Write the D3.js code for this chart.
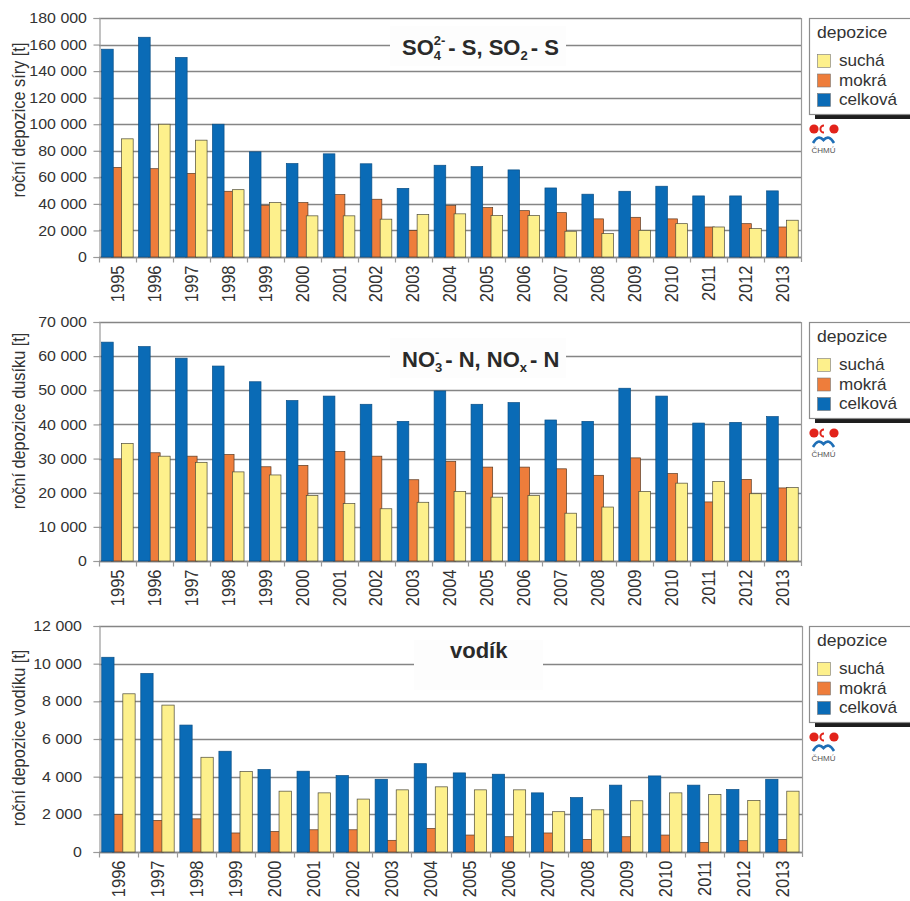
<!DOCTYPE html>
<html>
<head>
<meta charset="utf-8">
<script src="https://cdn.jsdelivr.net/npm/d3@7/dist/d3.min.js"></script>
<style>
  html, body { margin: 0; padding: 0; background: #fff; }
  svg { display: block; font-family: "Liberation Sans", Arial, Helvetica, sans-serif; }
</style>
</head>
<body>
<svg id="chart" width="910" height="901"></svg>
<script>
// Years on the category axis
const yearsSN = [1995, 1996, 1997, 1998, 1999, 2000, 2001, 2002, 2003, 2004,
                 2005, 2006, 2007, 2008, 2009, 2010, 2011, 2012, 2013];
const yearsH  = [1996, 1997, 1998, 1999, 2000, 2001, 2002, 2003, 2004,
                 2005, 2006, 2007, 2008, 2009, 2010, 2011, 2012, 2013];

// Sulphur deposition [t]
const siraSucha   = [89000, 100000, 88000, 50700, 41000, 31000, 31000, 28500, 32000, 32500,
                     31200, 31200, 19400, 17600, 20100, 25100, 22600, 21400, 27700];
const siraMokra   = [67500, 66500, 63000, 49500, 39000, 41000, 47000, 43500, 20000, 38700,
                     37200, 34900, 33400, 28700, 29900, 28700, 22600, 25100, 22600];
const siraCelkova = [156500, 165500, 150300, 100000, 79200, 70400, 77700, 70200, 51700, 69100,
                     68100, 65600, 52000, 47300, 49500, 53300, 46000, 46000, 49800];

// Nitrogen deposition [t]
const dusikSucha   = [34400, 30700, 28900, 26100, 25200, 19200, 16800, 15300, 17200, 20400,
                      18700, 19200, 14000, 15800, 20400, 22800, 23300, 19700, 21500];
const dusikMokra   = [29900, 31700, 30700, 31200, 27600, 28000, 32100, 30700, 23800, 29200,
                      27500, 27500, 27000, 25100, 30200, 25600, 17300, 23900, 21400];
const dusikCelkova = [64100, 62800, 59400, 57100, 52500, 47000, 48300, 45900, 40900, 49800,
                      45900, 46400, 41300, 40900, 50600, 48300, 40400, 40600, 42300];

// Hydrogen deposition [t]
const vodikSucha   = [8400, 7800, 5030, 4270, 3230, 3140, 2810, 3300, 3460,
                      3300, 3300, 2140, 2240, 2720, 3140, 3050, 2740, 3230];
const vodikMokra   = [1990, 1680, 1760, 1010, 1090, 1180, 1180, 620, 1250,
                      900, 810, 1010, 670, 810, 900, 510, 600, 670];
const vodikCelkova = [10340, 9480, 6740, 5350, 4380, 4290, 4060, 3860, 4690,
                      4200, 4130, 3140, 2890, 3550, 4040, 3550, 3320, 3860];

const legendLabels = ["suchá", "mokrá", "celková"];
const legendTitle = "depozice";

const colors = { sucha: "#fdf08c", mokra: "#ee7d3b", celkova: "#0a6bb6" };

const fmt = d3.formatLocale({ decimal: ",", thousands: " ", grouping: [3], currency: ["", ""] }).format(",d");

// text throughout the figure is set slightly wide
const SX = 1.1;

const panels = [
  {
    years: yearsSN, sucha: siraSucha, mokra: siraMokra, celkova: siraCelkova,
    yMax: 180000, step: 20000, top: 18, zero: 257, left: 99, right: 801,
    yTitle: "roční depozice síry [t]", yTitleY: 120, labelX: 87,
    title: [{ t: "SO" }, { sup: "2-", sub: "4" }, { t: "- S, SO", dx: 3 }, { sub: "2" }, { t: "- S", dx: 3 }],
    titleX: 402, titleY: 55, box: [390, 26, 176, 40], legendTop: 18
  },
  {
    years: yearsSN, sucha: dusikSucha, mokra: dusikMokra, celkova: dusikCelkova,
    yMax: 70000, step: 10000, top: 322, zero: 561, left: 99, right: 801,
    yTitle: "roční depozice dusíku [t]", yTitleY: 421, labelX: 87,
    title: [{ t: "NO" }, { sup: "-", sub: "3" }, { t: "- N, NO", dx: 3 }, { sub: "x" }, { t: "- N", dx: 3 }],
    titleX: 402, titleY: 367, box: [390, 338, 176, 40], legendTop: 322
  },
  {
    years: yearsH, sucha: vodikSucha, mokra: vodikMokra, celkova: vodikCelkova,
    yMax: 12000, step: 2000, top: 626, zero: 852, left: 99, right: 802,
    yTitle: "roční depozice vodíku [t]", yTitleY: 738, labelX: 82,
    title: [{ t: "vodík" }],
    titleX: 450, titleY: 658, box: [414, 640, 129, 50], legendTop: 626
  }
];

const svg = d3.select("#chart");
svg.append("rect").attr("width", 910).attr("height", 901).attr("fill", "#fff");

panels.forEach(p => {
  const g = svg.append("g");
  const x = d3.scaleBand().domain(p.years).range([p.left, p.right]).padding(0);
  const y = d3.scaleLinear().domain([0, p.yMax]).range([p.zero, p.top]);
  const ticks = d3.range(0, p.yMax + 1, p.step);

  // horizontal gridlines
  g.append("g").selectAll("line").data(ticks).join("line")
    .attr("x1", p.left).attr("x2", p.right)
    .attr("y1", d => Math.round(y(d)) + 0.5).attr("y2", d => Math.round(y(d)) + 0.5)
    .attr("stroke", "#858585").attr("stroke-width", 1.3);

  // right frame line
  g.append("line").attr("x1", p.right + 0.5).attr("x2", p.right + 0.5)
    .attr("y1", p.top).attr("y2", p.zero + 5)
    .attr("stroke", "#9a9a9a").attr("stroke-width", 1.2);

  // title box interrupting the gridline
  g.append("rect").attr("x", p.box[0]).attr("y", p.box[1])
    .attr("width", p.box[2]).attr("height", p.box[3]).attr("fill", "#fdfdfd");

  // y axis
  const yAxis = d3.axisLeft(y).tickValues(ticks).tickFormat(fmt).tickSize(6).tickPadding(0);
  const ya = g.append("g").attr("transform", `translate(${p.left + 0.5},0)`).call(yAxis);
  ya.select(".domain").attr("stroke", "#9a9a9a").attr("stroke-width", 1.2);
  ya.selectAll(".tick line").attr("stroke", "#9a9a9a").attr("stroke-width", 1.2);
  ya.selectAll(".tick text")
    .attr("x", 0)
    .attr("transform", `translate(${p.labelX - p.left - 0.5},0) scale(${SX},1)`)
    .attr("font-size", 14.5).attr("font-family", "Liberation Sans, Arial, sans-serif")
    .attr("fill", "#333");

  // x axis (ticks at band boundaries)
  const xa = g.append("g").attr("transform", `translate(0,${p.zero + 0.5})`);
  xa.append("line").attr("x1", p.left).attr("x2", p.right).attr("stroke", "#858585").attr("stroke-width", 1.3);
  xa.selectAll("line.b").data(p.years).join("line").attr("class", "b")
    .attr("x1", d => Math.round(x(d)) + 0.5).attr("x2", d => Math.round(x(d)) + 0.5)
    .attr("y1", 0).attr("y2", 5).attr("stroke", "#9a9a9a").attr("stroke-width", 1.2);
  xa.selectAll("text").data(p.years).join("text")
    .attr("transform", d => `translate(${x(d) + x.bandwidth() / 2},8) scale(${SX},1) rotate(-90)`)
    .attr("text-anchor", "end").attr("dy", "0.35em")
    .attr("font-size", 16.5).attr("fill", "#333")
    .text(d => d);

  // bars: wet behind, total and dry overlapping it
  const bw = x.bandwidth();
  const w = bw * 0.315, s = bw * 0.27, pad = bw * 0.07;
  const rows = p.years.map((yr, i) => ({ yr, sucha: p.sucha[i], mokra: p.mokra[i], celkova: p.celkova[i] }));
  const series = [
    { key: "mokra", off: s, stroke: "#5a3a22" },
    { key: "celkova", off: 0, stroke: "#0a4f86" },
    { key: "sucha", off: 2 * s, stroke: "#4d4a38" }
  ];
  series.forEach(se => {
    g.append("g").selectAll("rect").data(rows).join("rect")
      .attr("x", d => x(d.yr) + pad + se.off)
      .attr("y", d => y(d[se.key]))
      .attr("width", w)
      .attr("height", d => p.zero - y(d[se.key]))
      .attr("fill", colors[se.key])
      .attr("stroke", se.stroke).attr("stroke-width", 0.7);
  });

  // y title
  g.append("text")
    .attr("transform", `translate(19,${p.yTitleY}) scale(${SX},1) rotate(-90)`)
    .attr("text-anchor", "middle").attr("dy", "0.35em")
    .attr("font-size", 16.3).attr("fill", "#333")
    .text(p.yTitle);

  // chart title with stacked super/subscripts
  const tg = g.append("g").attr("font-weight", "bold").attr("fill", "#2a2a2a");
  let cx = p.titleX;
  const mainSize = 22, smallSize = 13;
  p.title.forEach(part => {
    if (part.t) {
      cx += part.dx || 0;
      const t = tg.append("text").attr("x", cx).attr("y", p.titleY)
        .attr("font-size", mainSize).text(part.t);
      cx += t.node().getComputedTextLength();
    } else {
      let wmax = 0;
      if (part.sup) {
        const t = tg.append("text").attr("x", cx).attr("y", p.titleY - 10)
          .attr("font-size", smallSize).text(part.sup);
        wmax = Math.max(wmax, t.node().getComputedTextLength());
      }
      if (part.sub) {
        const t = tg.append("text").attr("x", cx).attr("y", p.titleY + 4.5)
          .attr("font-size", smallSize).text(part.sub);
        wmax = Math.max(wmax, t.node().getComputedTextLength());
      }
      cx += wmax;
    }
  });

  // legend
  const lt = p.legendTop;
  const lg = g.append("g");
  lg.append("rect").attr("x", 815).attr("y", lt + 6).attr("width", 110).attr("height", 95).attr("fill", "#1e1e1e");
  lg.append("rect").attr("x", 809.5).attr("y", lt + 0.5).attr("width", 120).attr("height", 96)
    .attr("fill", "#fff").attr("stroke", "#8c8c8c").attr("stroke-width", 1.2);
  lg.append("text").attr("transform", `translate(817,${lt + 20}) scale(${SX},1)`)
    .attr("font-size", 16).attr("fill", "#333").text(legendTitle);
  const keys = ["sucha", "mokra", "celkova"];
  keys.forEach((k, i) => {
    lg.append("rect").attr("x", 817.5).attr("y", lt + 36.5 + i * 19.5).attr("width", 13).attr("height", 13)
      .attr("fill", colors[k]).attr("stroke", "#777").attr("stroke-width", 0.6);
    lg.append("text").attr("transform", `translate(839,${lt + 48 + i * 19.5}) scale(1.07,1)`)
      .attr("font-size", 16).attr("fill", "#333")
      .text(legendLabels[i]);
  });

  // institute logo
  const ly = lt + 96;
  const logo = g.append("g");
  logo.append("circle").attr("cx", 814).attr("cy", ly + 15).attr("r", 4.6).attr("fill", "#e2231a");
  logo.append("path")
    .attr("d", `M824,${ly + 10.4} A4.6,4.6 0 0 0 824,${ly + 19.6} L824,${ly + 17.6} A2.6,2.6 0 0 1 824,${ly + 12.4} Z`)
    .attr("fill", "#e2231a");
  logo.append("circle").attr("cx", 834).attr("cy", ly + 15).attr("r", 4.6).attr("fill", "#e2231a");
  logo.append("path")
    .attr("d", `M813,${ly + 29} Q818,${ly + 20} 823.5,${ly + 26} Q829,${ly + 20} 834,${ly + 29}`)
    .attr("fill", "none").attr("stroke", "#1f6fb6").attr("stroke-width", 2.6);
  logo.append("text").attr("x", 823.5).attr("y", ly + 39).attr("text-anchor", "middle")
    .attr("font-size", 8).attr("fill", "#555").text("ČHMÚ");
});
</script>
</body>
</html>
